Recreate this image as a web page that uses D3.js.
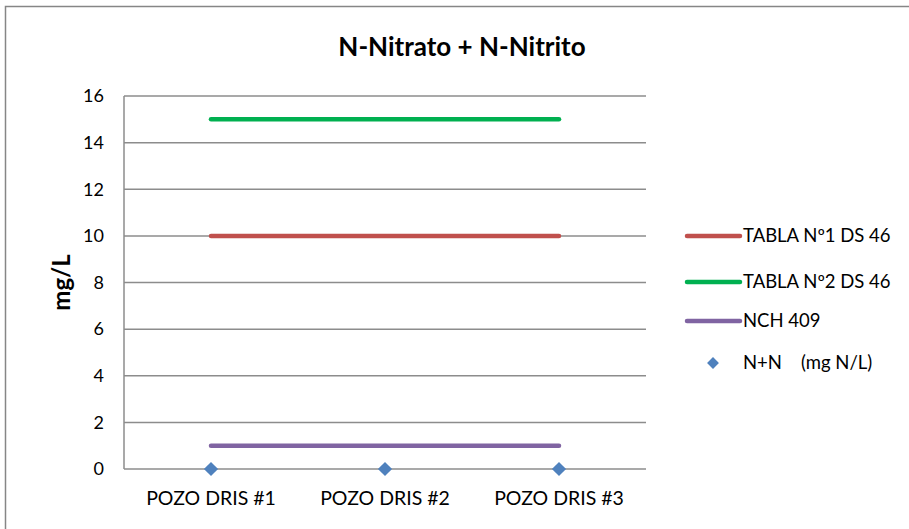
<!DOCTYPE html>
<html>
<head>
<meta charset="utf-8">
<script src="https://d3js.org/d3.v7.min.js"></script>
<style>
  body { margin: 0; background: white; }
  text { font-family: Lato, "Open Sans", sans-serif; fill: #000; }
</style>
</head>
<body>
<svg width="909" height="529"></svg>
<script>
var categories = ["POZO DRIS #1", "POZO DRIS #2", "POZO DRIS #3"];
var tabla1 = [10, 10, 10];
var tabla2 = [15, 15, 15];
var nch409 = [1, 1, 1];
var nn = [0, 0, 0];
var yTicks = [0, 2, 4, 6, 8, 10, 12, 14, 16];

var series = [
  {name: "TABLA Nº1 DS 46", values: tabla1, color: "#C0504D"},
  {name: "TABLA Nº2 DS 46", values: tabla2, color: "#00B050"},
  {name: "NCH 409", values: nch409, color: "#8064A2"}
];

var svg = d3.select("svg");

// chart border
svg.append("rect").attr("x", 5.5).attr("y", 6.5).attr("width", 920).attr("height", 540)
  .style("fill", "white").style("stroke", "#868686").style("stroke-width", 1.5);

var plotLeft = 124, plotRight = 646, plotTop = 96, plotBottom = 469;

var x = d3.scaleBand().domain(categories).range([plotLeft, plotRight]);
var y = d3.scaleLinear().domain([0, 16]).range([plotBottom, plotTop]);

// gridlines
svg.append("g").selectAll("line").data(yTicks).enter().append("line")
  .attr("x1", plotLeft).attr("x2", plotRight)
  .attr("y1", function(d){ return y(d); }).attr("y2", function(d){ return y(d); })
  .style("stroke", "#8c8c8c").style("stroke-width", 1.5);

// y axis line
svg.append("line").attr("x1", plotLeft).attr("x2", plotLeft).attr("y1", plotTop).attr("y2", plotBottom)
  .style("stroke", "#8c8c8c").style("stroke-width", 1.5);

// y tick labels
svg.append("g").selectAll("text").data(yTicks).enter().append("text")
  .attr("x", plotLeft - 20).attr("y", function(d){ return y(d); })
  .attr("dy", "0.35em").attr("text-anchor", "end").style("font-size", "18px")
  .text(function(d){ return d; });

// x labels
svg.append("g").selectAll("text").data(categories).enter().append("text")
  .attr("x", function(d){ return x(d) + x.bandwidth() / 2; }).attr("y", plotBottom + 36)
  .attr("text-anchor", "middle").style("font-size", "19.5px")
  .text(function(d){ return d; });

// title
svg.append("text").attr("x", 462).attr("y", 56).attr("text-anchor", "middle")
  .style("font-size", "26px").style("font-weight", "bold").text("N-Nitrato + N-Nitrito");

// y axis title
svg.append("text").attr("transform", "translate(70," + ((plotTop + plotBottom) / 2) + ") rotate(-90)")
  .attr("text-anchor", "middle").style("font-size", "24px").style("font-weight", "bold").text("mg/L");

// series lines
var line = d3.line()
  .x(function(d, i){ return x(categories[i]) + x.bandwidth() / 2; })
  .y(function(d){ return y(d); });

series.forEach(function(s){
  svg.append("path").attr("d", line(s.values))
    .style("fill", "none").style("stroke", s.color).style("stroke-width", 4.5)
    .style("stroke-linecap", "round");
});

// diamonds
svg.append("g").selectAll("path").data(nn).enter().append("path")
  .attr("transform", function(d, i){ return "translate(" + (x(categories[i]) + x.bandwidth() / 2) + "," + y(d) + ") rotate(45)"; })
  .attr("d", d3.symbol().type(d3.symbolSquare).size(100))
  .style("fill", "#4F81BD");

// legend
var legendY = [236, 282, 321];
series.forEach(function(s, i){
  svg.append("line").attr("x1", 687).attr("x2", 740).attr("y1", legendY[i]).attr("y2", legendY[i])
    .style("stroke", s.color).style("stroke-width", 4.5).style("stroke-linecap", "round");
  svg.append("text").attr("x", 743).attr("y", legendY[i]).attr("dy", "0.35em")
    .style("font-size", "18.5px").text(s.name);
});
svg.append("path").attr("transform", "translate(713,363) rotate(45)")
  .attr("d", d3.symbol().type(d3.symbolSquare).size(70)).style("fill", "#4F81BD");
svg.append("text").attr("x", 743).attr("y", 363).attr("dy", "0.35em")
  .style("font-size", "18.5px").style("white-space", "pre").attr("xml:space", "preserve")
  .text("N+N    (mg N/L)");
</script>
</body>
</html>
